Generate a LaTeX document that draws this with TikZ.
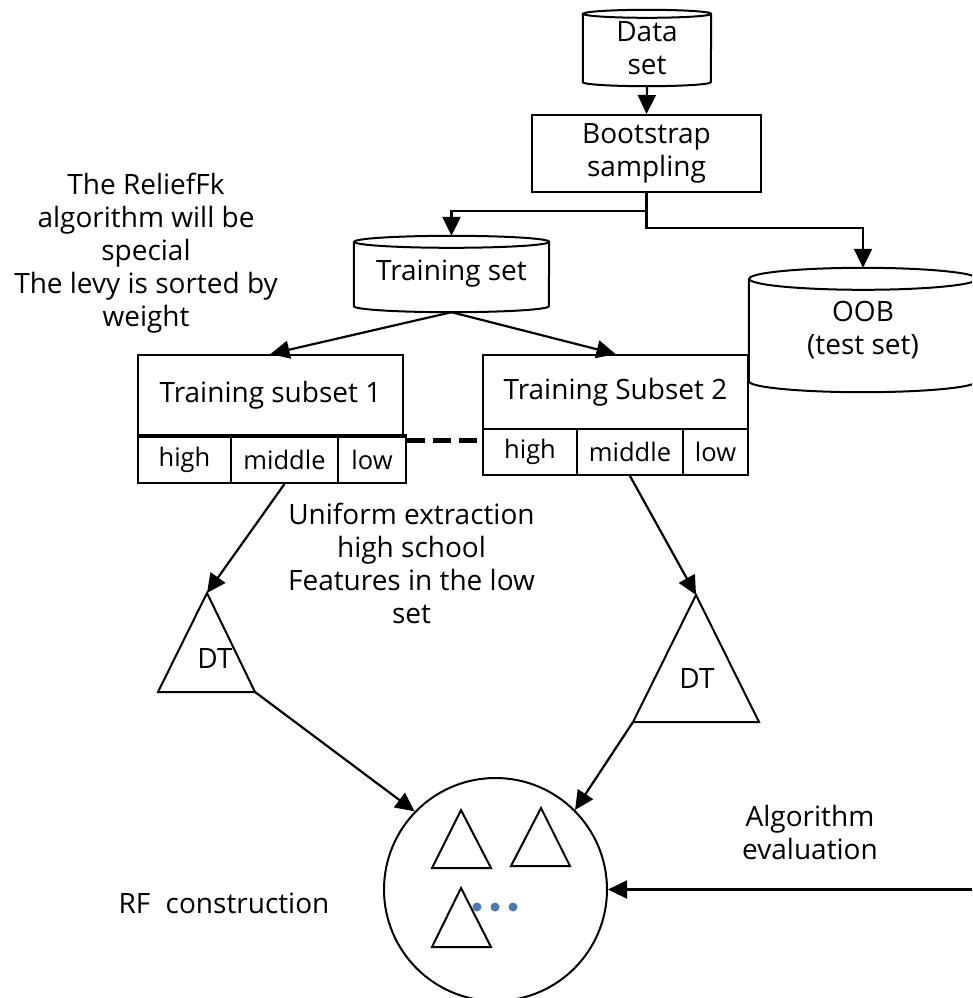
\documentclass[tikz,border=0pt]{standalone}
\usepackage{fontspec}
\setmainfont{Open Sans}
\usepackage{xcolor}
\usetikzlibrary{arrows.meta}

\definecolor{dotblue}{RGB}{74,122,176}

\newcommand{\dbdraw}[3]{%
  \draw[shp] ([yshift=-#3]#1.north west) -- ([yshift=#3]#1.south west)
    arc[start angle=180, end angle=360, x radius=#2, y radius=#3]
    -- ([yshift=-#3]#1.north east)
    arc[start angle=0, end angle=360, x radius=#2, y radius=#3];}

\begin{document}
\begin{tikzpicture}[x=1pt, y=-1pt,
  txt/.style={font=\fontsize{28}{33}\selectfont, align=center, inner sep=0pt},
  shp/.style={black, line width=2pt},
  boxn/.style={txt, draw, line width=2pt},
  cell/.style={txt, font=\fontsize{25.5}{30}\selectfont, draw, line width=2pt, minimum height=46pt},
  arr/.style={black, line width=2.2pt, -{Triangle[length=19pt, width=18pt]}},
  dashline/.style={black, line width=5pt, dash pattern=on 18pt off 8pt}]
  \useasboundingbox (0,0) rectangle (972,998);
  \clip (0,0) rectangle (972,998);

  \node[txt, minimum width=128pt, minimum height=76pt] (ds) at (647,48) {Data\\set};
  \dbdraw{ds}{64pt}{4pt}
  \node[boxn, minimum width=229pt, minimum height=77pt] (bs) at (646.5,153.5) {Bootstrap\\sampling};
  \node[txt, minimum width=195pt, minimum height=76pt] (ts) at (451.5,274) {Training set};
  \dbdraw{ts}{97.5pt}{6pt}
  \node[txt, minimum width=228pt, minimum height=124pt] (oob) at (863,330) {OOB\\(test set)};
  \dbdraw{oob}{114pt}{11pt}

  \node[boxn, minimum width=265pt, minimum height=81pt] (s1) at (270.5,395.5) {Training subset 1};
  \node[cell, minimum width=93pt] (s1h) at (184.5,460) {high};
  \node[cell, minimum width=107pt] (s1m) at (284.5,460) {middle};
  \node[cell, minimum width=68pt] (s1l) at (372,460) {low};
  \draw[line width=3.5pt] (s1h.north west) -- (s1l.north east);

  \node[boxn, minimum width=265pt, minimum height=74pt] (s2) at (615.5,392) {Training Subset 2};
  \node[cell, minimum width=94pt] (s2h) at (530,452) {high};
  \node[cell, minimum width=106pt] (s2m) at (630,452) {middle};
  \node[cell, minimum width=65pt] (s2l) at (715.5,452) {low};
  \draw[dashline] ([yshift=-4pt]s1l.north east) -- ([yshift=-12pt]s2h.north west);

  \coordinate (dt1top) at (207,593);
  \coordinate (dt1l) at (158,692);
  \coordinate (dt1r) at (255,692);
  \draw[shp] (dt1top) -- (dt1l) -- (dt1r) -- cycle;
  \node[txt] (dt1) at (215,658) {DT};
  \coordinate (dt2top) at (696,595);
  \coordinate (dt2l) at (633,722);
  \coordinate (dt2r) at (759,722);
  \draw[shp] (dt2top) -- (dt2l) -- (dt2r) -- cycle;
  \node[txt] (dt2) at (697,678) {DT};

  \node[circle, draw, line width=2pt, minimum size=223pt, inner sep=0pt] (rf) at (495.5,889.5) {};
  \draw[shp] (461,810) -- (432,868) -- (491,868) -- cycle;
  \draw[shp] (541,808) -- (511,866) -- (570,866) -- cycle;
  \draw[shp] (461,888) -- (432,947) -- (491,947) -- cycle;
  \fill[dotblue] (477,907) circle (4.5pt);
  \fill[dotblue] (495,907) circle (4.5pt);
  \fill[dotblue] (513,907) circle (4.5pt);
  \coordinate (evalsrc) at (972,889.5);

  \draw[arr] (ds.south) -- (bs.north);
  \draw[arr] (bs.south) -- ++(0,18) -| (ts.north);
  \draw[arr] (bs.south) -- ++(0,35) -| (oob.north);
  \draw[arr] (ts.south) -- (s1.north);
  \draw[arr] (ts.south) -- (s2.north);
  \draw[arr] (s1m.south) -- (dt1top);
  \draw[arr] (s2m.south) -- (dt2top);
  \draw[arr] (dt1r) -- (rf.136);
  \draw[arr] (dt2l) -- (rf.45);
  \draw[arr] (evalsrc) -- (rf.east);

  \node[txt] (relief) at (146,253) {The ReliefFk\\algorithm will be\\special\\The levy is sorted by\\weight};
  \node[txt] (unif) at (411.5,563) {Uniform extraction\\high school\\Features in the low\\set};
  \node[txt] (rfc) at (224,903) {RF\hspace{0.55em}construction};
  \node[txt] (algev) at (810,832) {Algorithm\\evaluation};
\end{tikzpicture}
\end{document}
